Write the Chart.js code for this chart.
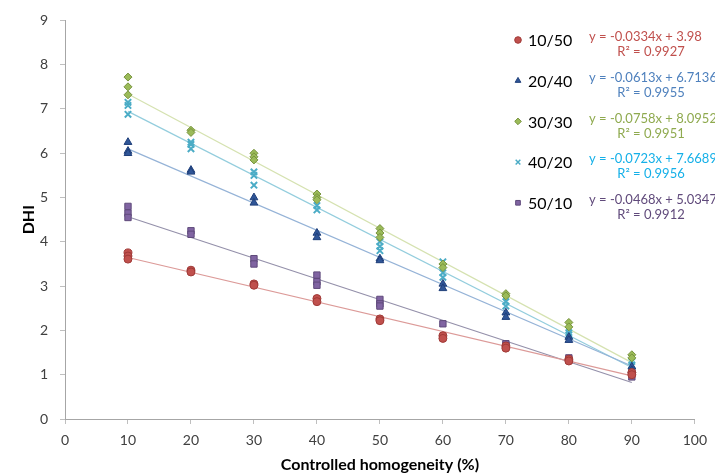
<!DOCTYPE html>
<html>
<head>
<meta charset="utf-8">
<script src="https://cdn.jsdelivr.net/npm/chart.js@4.4.1/dist/chart.umd.min.js"></script>
<style>
  html, body { margin: 0; padding: 0; background: #fff; overflow: hidden; }
  #wrap { width: 715px; height: 475px; position: relative; }
</style>
</head>
<body>
<div id="wrap"><canvas id="DhiChart"></canvas></div>
<script>
// controlled homogeneity (%) and DHI replicates
const xValues = [10, 20, 30, 40, 50, 60, 70, 80, 90]

const s1050 = [[3.75, 3.68, 3.61], [3.36, 3.32], [3.05, 3.02], [2.72, 2.65], [2.26, 2.22], [1.88, 1.82], [1.65, 1.60], [1.35, 1.31], [1.05, 1.00]]
const s2040 = [[6.25, 6.05, 6.00], [5.62, 5.58], [5.00, 4.88], [4.20, 4.10], [3.62, 3.58], [3.05, 2.95], [2.40, 2.30], [1.85, 1.78], [1.18, 1.10]]
const s3030 = [[7.72, 7.50, 7.32], [6.52, 6.47], [6.00, 5.92, 5.85], [5.08, 5.00, 4.95], [4.30, 4.20, 4.10], [3.50, 3.42], [2.83, 2.78], [2.18, 2.08], [1.45, 1.38]]
const s4020 = [[7.15, 7.08, 6.88], [6.25, 6.20, 6.10], [5.58, 5.50, 5.28], [4.82, 4.72], [4.00, 3.90, 3.80], [3.55, 3.30, 3.20], [2.65, 2.55], [1.95, 1.90], [1.30, 1.22]]
const s5010 = [[4.80, 4.65, 4.55], [4.25, 4.17], [3.62, 3.50], [3.25, 3.10, 3.02], [2.70, 2.60, 2.55], [2.15], [1.70, 1.66], [1.38, 1.33], [1.05, 0.95]]

const seriesNames = ['10/50', '20/40', '30/30', '40/20', '50/10']
const equations = ['y = -0.0334x + 3.98', 'y = -0.0613x + 6.7136', 'y = -0.0758x + 8.0952', 'y = -0.0723x + 7.6689', 'y = -0.0468x + 5.0347']
const rSquared = ['R\u00b2 = 0.9927', 'R\u00b2 = 0.9955', 'R\u00b2 = 0.9951', 'R\u00b2 = 0.9956', 'R\u00b2 = 0.9912']

// trendline end values at x = 10 and x = 90
const trendStart = [3.646, 6.100, 7.337, 6.946, 4.567]
const trendEnd = [0.974, 1.196, 1.273, 1.162, 0.823]

const allSeries = [s1050, s2040, s3030, s4020, s5010]

const pointStyles = ['circle', 'triangle', 'rectRot', 'crossRot', 'rect']
const pointSizes = [4, 4.5, 4, 4.5, 4.5]
const fillColors = ['#c0504d', '#2f5597', '#9bbb59', '#4bacc6', '#8064a2']
const edgeColors = ['#a03a37', '#1f3f7a', '#76923c', '#3296b0', '#5f4a7b']
const lineColors = ['#dc9a98', '#95b3d7', '#d5e2b0', '#93cddd', '#9490aa']
const eqColors = ['#c0504d', '#4f81bd', '#8faa4f', '#15b0e8', '#604a7b']

const fontFamily = 'Lato, "Open Sans", sans-serif'

function toPoints(series) {
    let pts = []
    series.forEach((reps, i) => {
        reps.forEach(v => pts.push({ x: xValues[i], y: v }))
    })
    return pts
}

let datasets = []
allSeries.forEach((series, i) => {
    datasets.push({
        label: seriesNames[i],
        data: toPoints(series),
        pointStyle: pointStyles[i],
        pointRadius: pointSizes[i],
        pointBackgroundColor: fillColors[i],
        pointBorderColor: pointStyles[i] === 'crossRot' ? fillColors[i] : edgeColors[i],
        pointBorderWidth: pointStyles[i] === 'crossRot' ? 2 : 1,
        showLine: false,
        order: 1
    })
    datasets.push({
        label: seriesNames[i] + ' trend',
        data: [{ x: xValues[0], y: trendStart[i] }, { x: xValues[xValues.length - 1], y: trendEnd[i] }],
        showLine: true,
        borderColor: lineColors[i],
        borderWidth: 1.2,
        pointRadius: 0,
        order: 2
    })
})

// legend with equations, drawn on the right side over the plot
const sideLegend = {
    id: 'sideLegend',
    afterDraw(chart) {
        const ctx = chart.ctx
        ctx.save()
        seriesNames.forEach((name, i) => {
            const rowY = 40 + i * 40.7
            ctx.fillStyle = fillColors[i]
            ctx.strokeStyle = pointStyles[i] === 'crossRot' ? fillColors[i] : edgeColors[i]
            ctx.lineWidth = pointStyles[i] === 'crossRot' ? 1.5 : 1
            Chart.helpers.drawPoint(ctx, { pointStyle: pointStyles[i], radius: 3.3, rotation: 0, borderWidth: ctx.lineWidth }, 518, rowY)

            ctx.fillStyle = '#000'
            ctx.font = '16px ' + fontFamily
            ctx.textAlign = 'left'
            ctx.textBaseline = 'middle'
            ctx.fillText(name, 528, rowY + 1)

            ctx.fillStyle = eqColors[i]
            ctx.font = '13px ' + fontFamily
            ctx.fillText(equations[i], 589, rowY - 3)
            ctx.textAlign = 'center'
            ctx.fillText(rSquared[i], 651, rowY + 12)
        })
        ctx.restore()
    }
}

new Chart(document.getElementById('DhiChart').getContext('2d'), {
    type: 'scatter',
    data: { datasets },
    plugins: [sideLegend],
    options: {
        responsive: true,
        maintainAspectRatio: false,
        animation: false,
        layout: { padding: { top: 18, right: 15, left: 0, bottom: 0 } },
        plugins: {
            legend: { display: false },
            tooltip: { enabled: false }
        },
        scales: {
            x: {
                type: 'linear',
                min: 0,
                max: 100,
                afterFit: s => { s.height = 56 },
                ticks: { stepSize: 10, color: '#404040', font: { family: fontFamily, size: 14 }, padding: 8 },
                grid: { drawOnChartArea: false, drawTicks: true, tickLength: 5, color: '#bfbfbf' },
                border: { color: '#a6a6a6' },
                title: { display: true, text: 'Controlled homogeneity (%)', color: '#000', font: { family: fontFamily, size: 16, weight: 'bold' }, padding: { top: 0, bottom: 1 } }
            },
            y: {
                min: 0,
                max: 9,
                afterFit: s => { s.width = 65 },
                ticks: { stepSize: 1, color: '#404040', font: { family: fontFamily, size: 14 }, padding: 12 },
                grid: { drawOnChartArea: false, drawTicks: true, tickLength: 5, color: '#bfbfbf' },
                border: { color: '#a6a6a6' },
                title: { display: true, text: 'DHI', color: '#000', font: { family: fontFamily, size: 16, weight: 'bold' }, padding: { top: 19, bottom: 0 } }
            }
        }
    }
})
</script>
</body>
</html>
